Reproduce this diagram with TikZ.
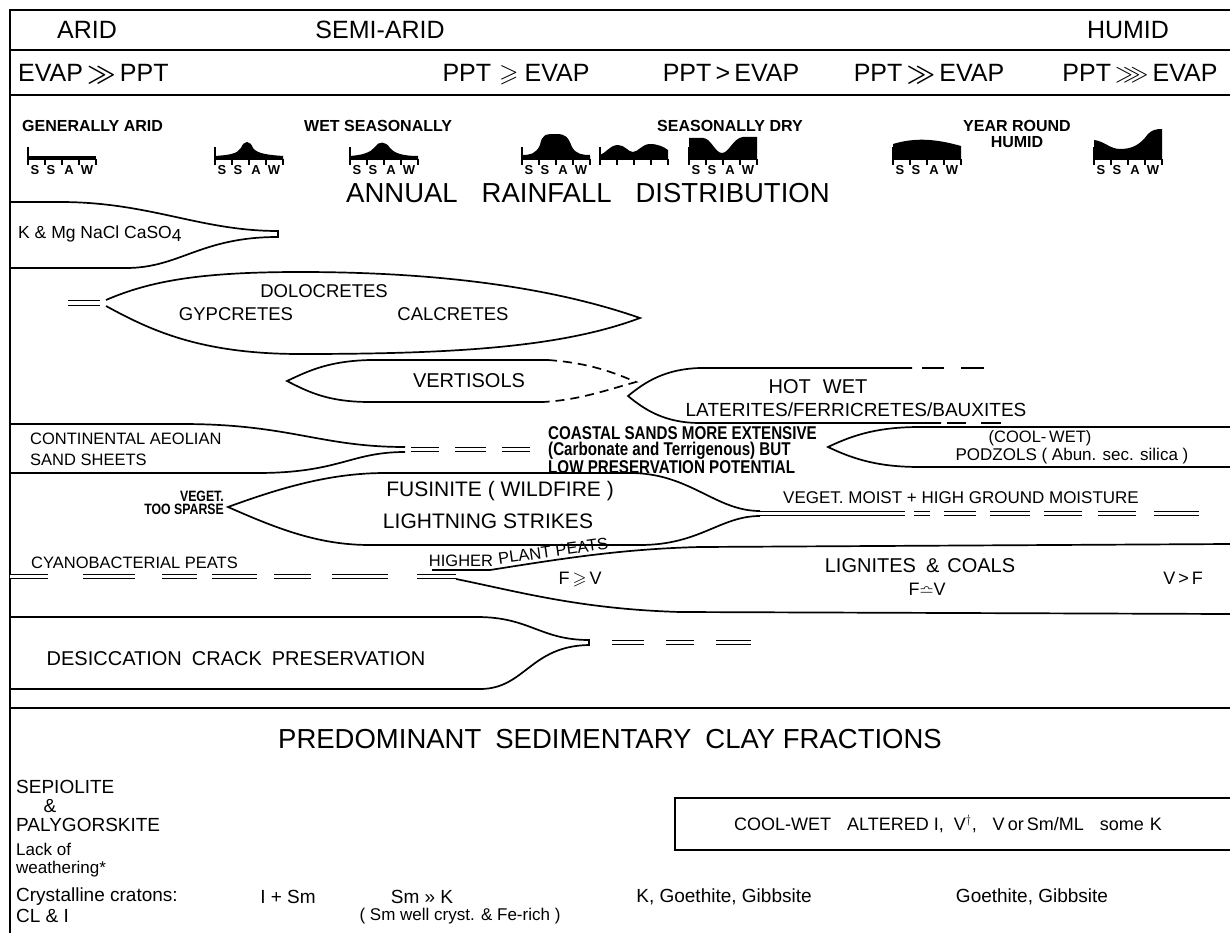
\documentclass[tikz,border=0pt]{standalone}
\usepackage{amsmath,amssymb}
\usepackage{fontspec}
\setmainfont{Liberation Sans}
\newfontfamily\narrowfont{Liberation Sans}[FakeStretch=0.82]
\usetikzlibrary{positioning}

\tikzset{
  rule/.style={line width=1.7pt},
  bound/.style={line width=1.7pt},
  dashbound/.style={line width=1.7pt, dash pattern=on 9pt off 6pt},
  dbl/.style={double, double distance=3.4pt, line width=1.2pt},
  headtxt/.style={inner sep=0pt, anchor=base, font=\fontsize{25}{27}\selectfont},
  titletxt/.style={inner sep=0pt, font=\fontsize{27.5}{29}\selectfont},
  lenstxt/.style={inner sep=0pt, font=\fontsize{20}{22}\selectfont},
  beltxt/.style={inner sep=0pt, align=left, font=\fontsize{16.5}{20}\selectfont},
  seasontxt/.style={inner sep=0pt, align=center, font=\bfseries\fontsize{16}{16}\selectfont},
  monthtxt/.style={inner sep=0pt, font=\bfseries\fontsize{13}{13}\selectfont},
  notetxt/.style={inner sep=0pt, align=left, font=\narrowfont\bfseries\fontsize{18.5}{16.5}\selectfont},
  claytxt/.style={inner sep=0pt, align=left, font=\fontsize{19}{15}\selectfont},
}

% one small rainfall chart: left x, filled profile, month letters
\newcommand{\rainglyph}[3]{%
  \begin{scope}[shift={(#1,159)}]
    \fill #2;
    \draw[line width=1.6pt] (0,0) -- (68,0);
    \draw[line width=1.2pt] (0,-12) -- (0,6);
    \foreach \t in {17,34,51,68} \draw[line width=1.2pt] (\t,0) -- (\t,6);
    #3
  \end{scope}}
\newcommand{\ssaw}{\foreach \m/\t in {S/7,S/23,A/41,W/59} \node[monthtxt, anchor=north] (m\t) at (\t,6.5) {\m};}

\begin{document}
\begin{tikzpicture}[x=1pt,y=-1pt]
  \useasboundingbox (0,0) rectangle (1230,933);
  % frame
  \draw[rule] (10,933) -- (10,10) -- (1230,10);
  \draw[rule] (10,50) -- (1230,50);
  \draw[rule] (10,95) -- (1230,95);
  \draw[rule] (10,708) -- (1230,708);

  % climate header
  \node[headtxt] (arid) at (87,39) {ARID};
  \node[headtxt] (semiarid) at (380,39) {SEMI-ARID};
  \node[headtxt] (humid) at (1128,39) {HUMID};
  \node[headtxt, anchor=base west] (ep1) at (18,82) {EVAP\,$\boldsymbol{\gg}$\,PPT};
  \node[headtxt] (ep2) at (516,82) {PPT\hspace{8pt}$\boldsymbol{\geqslant}$\hspace{6pt}EVAP};
  \node[headtxt] (ep3) at (731,82) {PPT\,>\,EVAP};
  \node[headtxt] (ep4) at (929,82) {PPT\,$\boldsymbol{\gg}$\,EVAP};
  \node[headtxt] (ep5) at (1140,82) {PPT\,$\boldsymbol{\ggg}$\,EVAP};

  % annual rainfall distribution
  \node[seasontxt, anchor=west] (garid) at (22,126) {GENERALLY ARID};
  \node[seasontxt, anchor=west] (wets) at (304,126) {WET SEASONALLY};
  \node[seasontxt, anchor=west] (sdry) at (657,126) {SEASONALLY DRY};
  \node[seasontxt] (yround) at (1017,134) {YEAR ROUND\\HUMID};
  \rainglyph{28}{(0,0) rectangle (68,-2.5)}{\ssaw}
  \rainglyph{215}{(0,0) -- (0,-3) .. controls (14,-4) and (22,-5) .. (26,-11) .. controls (29,-19) and (35,-19) .. (38,-11) .. controls (42,-5) and (55,-4) .. (68,-3) -- (68,0) -- cycle}{\ssaw}
  \rainglyph{350}{(0,0) -- (0,-3) .. controls (12,-4) and (20,-6) .. (25,-12) .. controls (28,-18) and (36,-18) .. (40,-11) .. controls (45,-5) and (55,-3) .. (68,-3) -- (68,0) -- cycle}{\ssaw}
  \rainglyph{522}{(0,0) -- (0,-4) .. controls (8,-4) and (14,-5) .. (18,-14) .. controls (20,-25) and (24,-25) .. (34,-25) .. controls (44,-25) and (46,-22) .. (50,-12) .. controls (54,-5) and (60,-4) .. (68,-4) -- (68,0) -- cycle}{\ssaw}
  \rainglyph{600}{(0,0) -- (0,-4) .. controls (6,-6) and (10,-14) .. (18,-14) .. controls (25,-14) and (28,-7) .. (33,-7) .. controls (38,-7) and (42,-15) .. (50,-15) .. controls (58,-15) and (64,-12) .. (68,-9) -- (68,0) -- cycle}{}
  \rainglyph{689}{(0,0) -- (0,-21) -- (14,-21) .. controls (22,-21) and (26,-6) .. (33,-6) .. controls (40,-6) and (44,-21) .. (54,-22) -- (68,-22) -- (68,0) -- cycle}{\ssaw}
  \rainglyph{893}{(0,0) -- (0,-15) .. controls (20,-21) and (40,-21) .. (68,-13) -- (68,0) -- cycle}{\ssaw}
  \rainglyph{1094}{(0,0) -- (0,-19) .. controls (10,-18) and (16,-10) .. (26,-10) .. controls (38,-10) and (46,-14) .. (54,-25) .. controls (58,-29) and (62,-30) .. (68,-30) -- (68,0) -- cycle}{\ssaw}
  \node[titletxt, anchor=west] (annual) at (346,193) {ANNUAL\hspace{24pt}RAINFALL\hspace{24pt}DISTRIBUTION};

  % evaporites
  \draw[bound] (10,202) -- (60,202) .. controls (150,202) and (200,231) .. (278,231) -- (278,237) .. controls (200,237) and (180,268) .. (126,268) -- (10,268);
  \node[beltxt, anchor=west, font=\fontsize{17.5}{19}\selectfont] (evap) at (18,234) {K \& Mg NaCl CaSO\raisebox{-3pt}{4}};

  % dolocretes, gypcretes, calcretes
  \draw[dbl] (68,303) -- (100,303);
  \draw[bound] (106,300) .. controls (150,281) and (200,272) .. (300,272) .. controls (450,272) and (560,290) .. (640,318) .. controls (560,348) and (450,354) .. (300,354) .. controls (200,354) and (150,330) .. (106,306);
  \node[lenstxt, font=\fontsize{18.5}{20}\selectfont] (dolo) at (324,291) {DOLOCRETES};
  \node[lenstxt, font=\fontsize{18.5}{20}\selectfont] (gyp) at (236,314) {GYPCRETES};
  \node[lenstxt, font=\fontsize{18.5}{20}\selectfont] (calc) at (453,314) {CALCRETES};

  % vertisols
  \draw[bound] (548,360) -- (370,360) .. controls (330,361) and (310,370) .. (287,381) .. controls (310,393) and (330,402) .. (370,402) -- (543,402);
  \draw[dashbound] (548,360) .. controls (590,363) and (615,373) .. (636,382) .. controls (610,389) and (580,400) .. (543,402);
  \node[lenstxt] (vert) at (469,381) {VERTISOLS};

  % hot wet laterites
  \draw[bound] (912,368) -- (700,368) .. controls (665,369) and (645,382) .. (628,396) .. controls (645,410) and (665,423) .. (700,423) -- (941,423);
  \foreach \a/\b in {922/944,961/984} \draw[bound] (\a,368) -- (\b,368);
  \foreach \a/\b in {947/966,981/1001} \draw[bound] (\a,423) -- (\b,423);
  \node[lenstxt] (hotwet) at (818,387) {HOT\hspace{12pt}WET};
  \node[lenstxt, font=\fontsize{19}{21}\selectfont] (later) at (856,410) {LATERITES/FERRICRETES/BAUXITES};

  % aeolian sands and podzols
  \draw[bound] (10,424) -- (182,424) .. controls (290,424) and (320,447) .. (405,447);
  \draw[bound] (10,473) -- (257,473) .. controls (340,473) and (350,452) .. (405,452);
  \foreach \a/\b in {411/439,455/486,502/530} \draw[dbl] (\a,449.5) -- (\b,449.5);
  \node[beltxt, anchor=west] (aeol) at (30,439) {CONTINENTAL AEOLIAN};
  \node[beltxt, anchor=west] (sand) at (30,460) {SAND SHEETS};
  \node[notetxt, anchor=north west] (coast) at (548,426) {COASTAL SANDS MORE EXTENSIVE\\(Carbonate and Terrigenous) BUT\\LOW PRESERVATION POTENTIAL};
  \draw[bound] (1230,427) -- (920,427) .. controls (880,427) and (855,434) .. (828,447) .. controls (855,460) and (880,467) .. (920,467) -- (1230,467);
  \node[beltxt] (coolwetp) at (1040,438) {(COOL-\,WET)};
  \node[beltxt, font=\fontsize{17}{19}\selectfont] (podz) at (1072,456) {PODZOLS ( Abun. sec. silica )};

  % fusinite
  \draw[bound] (760,511) .. controls (715,511) and (690,473) .. (630,473) -- (385,473) .. controls (330,473) and (280,488) .. (228,507) .. controls (280,530) and (320,545) .. (370,545) -- (640,545) .. controls (700,545) and (720,516) .. (760,516);
  \draw[dbl] (760,513.5) -- (905,513.5);
  \foreach \a/\b in {914/930,944/976,990/1030,1044/1082,1098/1136,1154/1199} \draw[dbl] (\a,513.5) -- (\b,513.5);
  \node[notetxt, align=right, anchor=east, font=\narrowfont\bfseries\fontsize{15}{13}\selectfont] (sparse) at (224,503) {VEGET.\\TOO SPARSE};
  \node[lenstxt, font=\fontsize{21}{23}\selectfont] (fus) at (500,491) {FUSINITE ( WILDFIRE )};
  \node[lenstxt, font=\fontsize{21}{23}\selectfont] (light) at (488,521) {LIGHTNING STRIKES};
  \node[beltxt, font=\fontsize{17}{19}\selectfont] (moist) at (961,498) {VEGET.\ MOIST + HIGH\ GROUND\ MOISTURE};

  % peats and coals
  \foreach \a/\b in {10/48,83/135,162/197,212/257,274/311,332/388,417/456} \draw[dbl] (\a,576.5) -- (\b,576.5);
  \node[beltxt, anchor=west] (cyano) at (31,563) {CYANOBACTERIAL PEATS};
  \draw[bound] (432,570) -- (490,570) .. controls (560,559) and (620,549) .. (700,547) -- (1230,544);
  \draw[bound] (456,579) .. controls (520,592) and (580,609) .. (680,612) -- (1230,614);
  \node[beltxt] (higher) at (461,561) {HIGHER};
  \node[beltxt, rotate=8, anchor=south] (plant) at (554,557) {PLANT PEATS};
  \node[lenstxt] (lign) at (920,566) {LIGNITES\hspace{10pt}\&\hspace{8pt}COALS};
  \node[lenstxt, font=\fontsize{18}{20}\selectfont] (fv1) at (580,580) {F\,$\geqslant$\,V};
  \node[lenstxt, font=\fontsize{18}{20}\selectfont] (fv2) at (927,590) {F$\bumpeq$V};
  \node[lenstxt, font=\fontsize{18}{20}\selectfont] (vf) at (1183,578) {V\,>\,F};

  % desiccation cracks
  \draw[bound] (10,617) -- (477,617) .. controls (530,617) and (540,640) .. (589,640) -- (589,645) .. controls (530,646) and (525,689) .. (480,689) -- (10,689);
  \foreach \a/\b in {612/644,666/694,716/751} \draw[dbl] (\a,642.5) -- (\b,642.5);
  \node[lenstxt] (desic) at (236,659) {DESICCATION\hspace{10pt}CRACK\hspace{10pt}PRESERVATION};

  % clay fractions
  \node[titletxt] (pred) at (610,739) {PREDOMINANT\hspace{14pt}SEDIMENTARY\hspace{14pt}CLAY FRACTIONS};
  \draw[bound] (1230,798) -- (675,798) -- (675,850) -- (1230,850);
  \node[claytxt, font=\fontsize{18}{20}\selectfont] (coolwet) at (948,824) {COOL-WET\hspace{16pt}ALTERED I,\hspace{10pt}V$^{\dagger}$,\hspace{16pt}V\,or\,Sm/ML\hspace{16pt}some\hspace{6pt}K};
  \node[claytxt, anchor=west] (sep) at (16,787) {SEPIOLITE};
  \node[claytxt] (amp) at (50,806) {\&};
  \node[claytxt, anchor=west] (paly) at (16,825) {PALYGORSKITE};
  \node[claytxt, anchor=north west, font=\fontsize{17}{17.5}\selectfont] (lack) at (16,843) {Lack of\\weathering*};
  \node[claytxt, anchor=west] (cryst) at (16,897) {Crystalline cratons:};
  \node[claytxt, anchor=west] (cli) at (16,916) {CL \& I};
  \node[claytxt] (ism) at (288,897) {I + Sm};
  \node[claytxt] (smk) at (422,897) {Sm » K};
  \node[claytxt, font=\fontsize{17}{19}\selectfont] (smwell) at (460,916) {( Sm well cryst. \& Fe-rich )};
  \node[claytxt] (kgo) at (724,897) {K, Goethite, Gibbsite};
  \node[claytxt] (go) at (1032,897) {Goethite, Gibbsite};
\end{tikzpicture}
\end{document}
